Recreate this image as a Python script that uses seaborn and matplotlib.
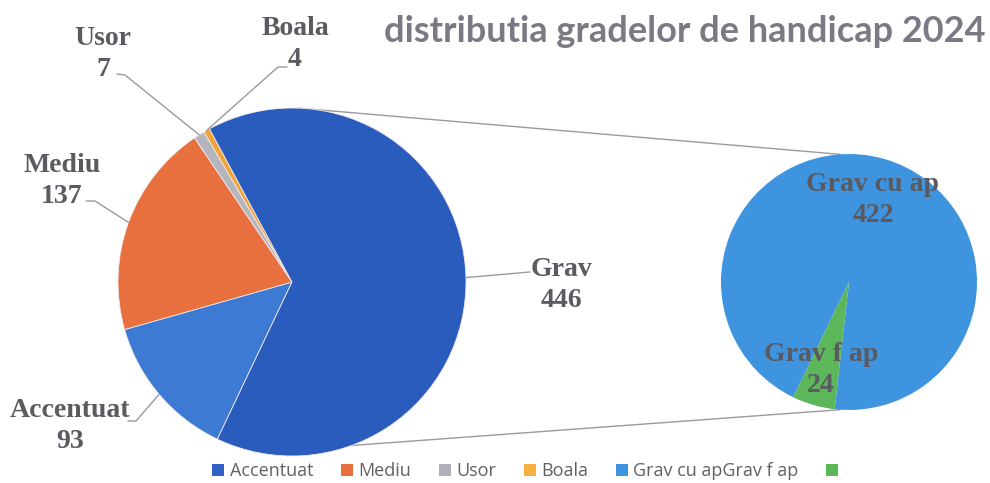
import numpy as np
import matplotlib
matplotlib.use("Agg")
import matplotlib.pyplot as plt
from matplotlib.patches import Patch
import seaborn as sns

# main pie
main_labels = ["Accentuat", "Mediu", "Usor", "Boala", "Grav"]
main_values = [93, 137, 7, 4, 446]
main_colors = ["#3d7ad3", "#e8703f", "#b5b5bd", "#f2a33a", "#2a5cbd"]

# second pie = split of "Grav"
sub_labels = ["Grav cu ap", "Grav f ap"]
sub_values = [422, 24]
sub_colors = ["#3e94de", "#5cb65a"]

# legend as it shows in the original (last two labels glued together)
legend_labels = ["Accentuat", "Mediu", "Usor", "Boala", "Grav cu apGrav f ap", ""]
legend_colors = ["#2f62c4", "#e8703f", "#b0b0ba", "#f5b040", "#3e94de", "#5cb65a"]

title = "distributia gradelor de handicap 2024"

W, H = 990, 483


def px(x, y):
    # pixel coords (y down) -> data coords (y up)
    return x, H - y


def on_circle(w, ang):
    a = np.deg2rad(ang)
    return w.center[0] + w.r * np.cos(a), w.center[1] + w.r * np.sin(a)


def mid(w):
    return on_circle(w, (w.theta1 + w.theta2) / 2)


sns.set_theme(style="white")
fig = plt.figure(figsize=(9.9, 4.83), dpi=100)
ax = fig.add_axes([0, 0, 1, 1])

wm, _ = ax.pie(main_values, colors=main_colors, center=px(292, 282), radius=174,
               startangle=244.6, counterclock=False,
               wedgeprops=dict(linewidth=0.6, edgecolor="#f3e9e9"))
ws, _ = ax.pie(sub_values, colors=sub_colors, center=px(849, 282), radius=128,
               startangle=244.2, counterclock=False,
               wedgeprops=dict(linewidth=0))
ax.set_xlim(0, W)
ax.set_ylim(0, H)
ax.set_aspect("equal")
ax.axis("off")

# lines joining the two pies
line_kw = dict(color="#9a9aa0", lw=1.0, zorder=0)
for a1, a2 in [(88, 94), (-70, -94)]:
    p1 = on_circle(wm[0], a1)
    p2 = on_circle(ws[0], a2)
    ax.plot([p1[0], p2[0]], [p1[1], p2[1]], **line_kw)

lab_kw = dict(ha="center", va="center", fontsize=20, fontweight="bold",
              family="Liberation Serif", color="#5a5a60", linespacing=1.3)

# data labels with leader lines: (text centre, leader start points)
main_pos = {
    "Accentuat": ((70, 426), [(128, 421), (136, 421)]),
    "Mediu": ((62, 181), [(86, 201), (95, 201)]),
    "Usor": ((103, 54), [(117, 74), (125, 75)]),
    "Boala": ((295, 44), [(287, 67), (278, 67)]),
    "Grav": ((561, 285), [(530, 272)]),
}
for w, name, val in zip(wm, main_labels, main_values):
    tpos, lead = main_pos[name]
    ax.text(*px(*tpos), f"{name}\n{val}", **lab_kw)
    pts = [px(*p) for p in lead] + [mid(w)]
    ax.plot([p[0] for p in pts], [p[1] for p in pts], color="#9a9aa0", lw=1.0)

sub_pos = {"Grav cu ap": (873, 200), "Grav f ap": (821, 370)}
for name, val in zip(sub_labels, sub_values):
    ax.text(*px(*sub_pos[name]), f"{name}\n{val}", **lab_kw)

fig.text(986 / W, 1 - 32 / H, title, ha="right", va="center", fontsize=26,
         fontweight="bold", family="Lato", color="#7b7a84")

handles = [Patch(facecolor=c, edgecolor="none") for c in legend_colors]
fig.legend(handles, legend_labels, loc="center", bbox_to_anchor=(528 / W, 1 - 471 / H),
           ncol=6, frameon=False, handlelength=0.65, handleheight=0.65,
           handletextpad=0.3, columnspacing=1.55, labelcolor="#606066",
           prop=dict(family="Open Sans", size=13))

fig.savefig("out.png", dpi=100)
